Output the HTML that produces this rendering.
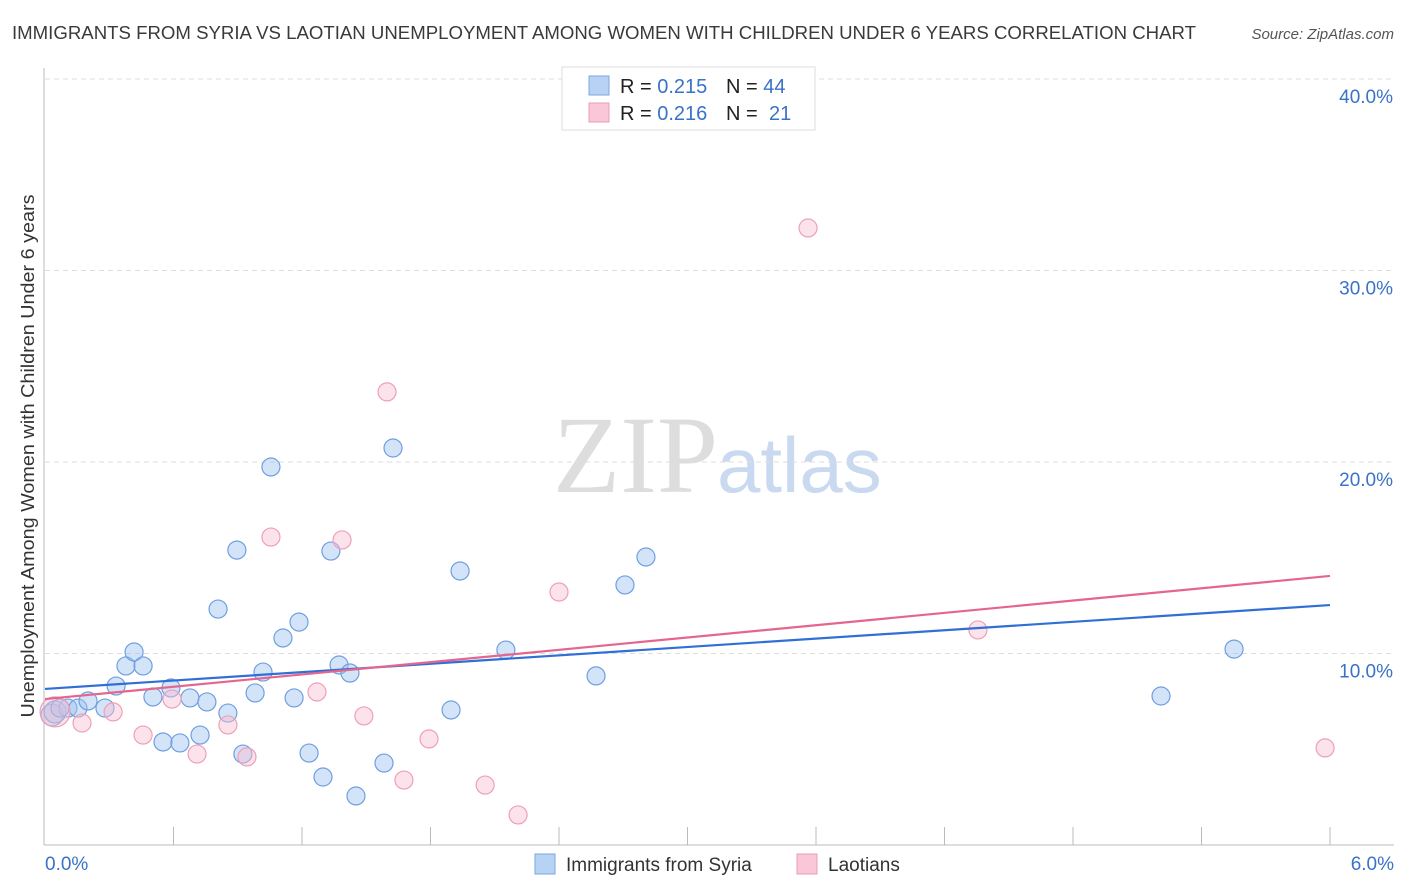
<!DOCTYPE html>
<html><head><meta charset="utf-8"><style>
body{margin:0;background:#fff;font-family:"Liberation Sans",sans-serif;}
svg{display:block}
</style></head><body>
<svg id="chart" width="1406" height="892">
<text x="12" y="39" font-size="18" fill="#3a3a3a" textLength="1184" lengthAdjust="spacingAndGlyphs">IMMIGRANTS FROM SYRIA VS LAOTIAN UNEMPLOYMENT AMONG WOMEN WITH CHILDREN UNDER 6 YEARS CORRELATION CHART</text>
<text x="1394" y="39" font-size="15" fill="#555" text-anchor="end" font-style="italic">Source: ZipAtlas.com</text>
<g>
<text x="553" y="492" font-size="110" fill="#ddd" font-family="Liberation Serif,serif">ZIP</text>
<text x="717" y="492" font-size="78" fill="#c9d9f0">atlas</text>
</g>
<g id="grid"></g>
<line x1="44" y1="68" x2="44" y2="845" stroke="#bbb"/>
<line x1="44" y1="845" x2="1394" y2="845" stroke="#bbb"/>
<g id="xticks"></g>
<text x="45" y="870" font-size="19" fill="#3a72c8">0.0%</text>
<text x="1394" y="870" font-size="19" fill="#3a72c8" text-anchor="end">6.0%</text>
<text transform="translate(34,456) rotate(-90)" font-size="18" fill="#333" text-anchor="middle" textLength="523" lengthAdjust="spacingAndGlyphs">Unemployment Among Women with Children Under 6 years</text>
<g id="points"></g>
<g id="lines"></g>
<g>
<rect x="562" y="67" width="253" height="63" fill="#fff" stroke="#ddd"/>
<rect x="589" y="76" width="20" height="19" fill="#b8d2f5" stroke="#7aa6e0"/>
<rect x="589" y="103" width="20" height="19" fill="#f9c7d7" stroke="#ee9bb5"/>
<text x="620" y="93" font-size="20" fill="#222">R = <tspan fill="#3a72c8">0.215</tspan><tspan x="726">N = </tspan><tspan fill="#3a72c8">44</tspan></text>
<text x="620" y="120" font-size="20" fill="#222">R = <tspan fill="#3a72c8">0.216</tspan><tspan x="726">N = </tspan><tspan fill="#3a72c8" x="769">21</tspan></text>
</g>
<g>
<rect x="535" y="854" width="20" height="20" fill="#b8d2f5" stroke="#7aa6e0"/>
<text x="566" y="871" font-size="19" fill="#333">Immigrants from Syria</text>
<rect x="797" y="854" width="20" height="20" fill="#f9c7d7" stroke="#ee9bb5"/>
<text x="828" y="871" font-size="19" fill="#333">Laotians</text>
</g>
</svg>
<script>
const yTicks=[10,20,30,40];
const yTickLabels=["10.0%","20.0%","30.0%","40.0%"];
const xTickVals=[0.6,1.2,1.8,2.4,3.0,3.6,4.2,4.8,5.4,6.0];
const syriaX=[0.033,0.047,0.107,0.154,0.201,0.280,0.332,0.378,0.416,0.458,0.504,0.551,0.588,0.630,0.677,0.724,0.756,0.808,0.854,0.896,0.924,0.981,1.018,1.055,1.111,1.163,1.186,1.233,1.298,1.335,1.373,1.424,1.452,1.583,1.625,1.896,1.938,2.152,2.573,2.708,2.806,5.211,5.552,0.070];
const syriaY=[6.79,6.95,7.15,7.15,7.52,7.15,8.30,9.35,10.08,9.35,7.73,5.38,8.20,5.33,7.68,5.74,7.47,12.32,6.89,15.40,4.75,7.94,9.03,19.74,10.81,7.68,11.64,4.80,3.55,15.35,9.40,8.98,2.56,4.28,20.73,7.05,14.31,10.18,8.83,13.58,15.04,7.78,10.23,7.15];
const laoX=[0.047,0.173,0.318,0.458,0.593,0.710,0.854,0.943,1.055,1.270,1.387,1.489,1.597,1.676,1.793,2.055,2.209,2.400,3.563,4.356,5.977];
const laoY=[6.95,6.37,6.95,5.74,7.62,4.75,6.27,4.60,16.08,7.99,15.93,6.74,23.66,3.39,5.54,3.13,1.57,13.21,32.22,11.23,5.07];
const syriaLine=[8.15,12.53];
const laoLine=[7.62,14.05];
const xS=v=>45+v/6*1285;
const yS=v=>845-v*19.15;
const NS="http://www.w3.org/2000/svg";
function mk(t,a,p){const e=document.createElementNS(NS,t);for(const k in a)e.setAttribute(k,a[k]);p.appendChild(e);return e;}
const grid=document.getElementById('grid');
mk('line',{x1:45,y1:79,x2:1394,y2:79,stroke:'#ddd','stroke-dasharray':'5,4'},grid);
yTicks.forEach((v,i)=>{
 const l=mk('line',{x1:45,y1:yS(v),x2:1394,y2:yS(v),stroke:'#ddd','stroke-dasharray':'5,4'},grid);
 
 
 const t=mk('text',{x:1393,y:yS(v)+24,'font-size':19,fill:'#3a72c8','text-anchor':'end'},grid);
 t.textContent=yTickLabels[i];
 
 
});
const xt=document.getElementById('xticks');
xTickVals.forEach(v=>{
 const l=mk('line',{x1:xS(v),y1:827,x2:xS(v),y2:845,stroke:'#bbb'},xt);
 
 
});
const pts=document.getElementById('points');
syriaX.forEach((x,i)=>{
 const c=mk('circle',{cx:xS(x),cy:yS(syriaY[i]),r:(i<2?11:9),fill:'rgba(160,195,240,0.45)',stroke:'#6f9fe0','stroke-width':1.2},pts);
 
 
});
laoX.forEach((x,i)=>{
 const c=mk('circle',{cx:xS(x),cy:yS(laoY[i]),r:(i==0?15:9),fill:'rgba(248,190,208,0.45)',stroke:'#eea0b8','stroke-width':1.2},pts);
 
 
});
const ln=document.getElementById('lines');
const l1=mk('line',{x1:xS(0),y1:yS(syriaLine[0]),x2:xS(6),y2:yS(syriaLine[1]),stroke:'#2f6fd6','stroke-width':2.2},ln);


const l2=mk('line',{x1:xS(0),y1:yS(laoLine[0]),x2:xS(6),y2:yS(laoLine[1]),stroke:'#e4668e','stroke-width':2.2},ln);


</script>
</body></html>
